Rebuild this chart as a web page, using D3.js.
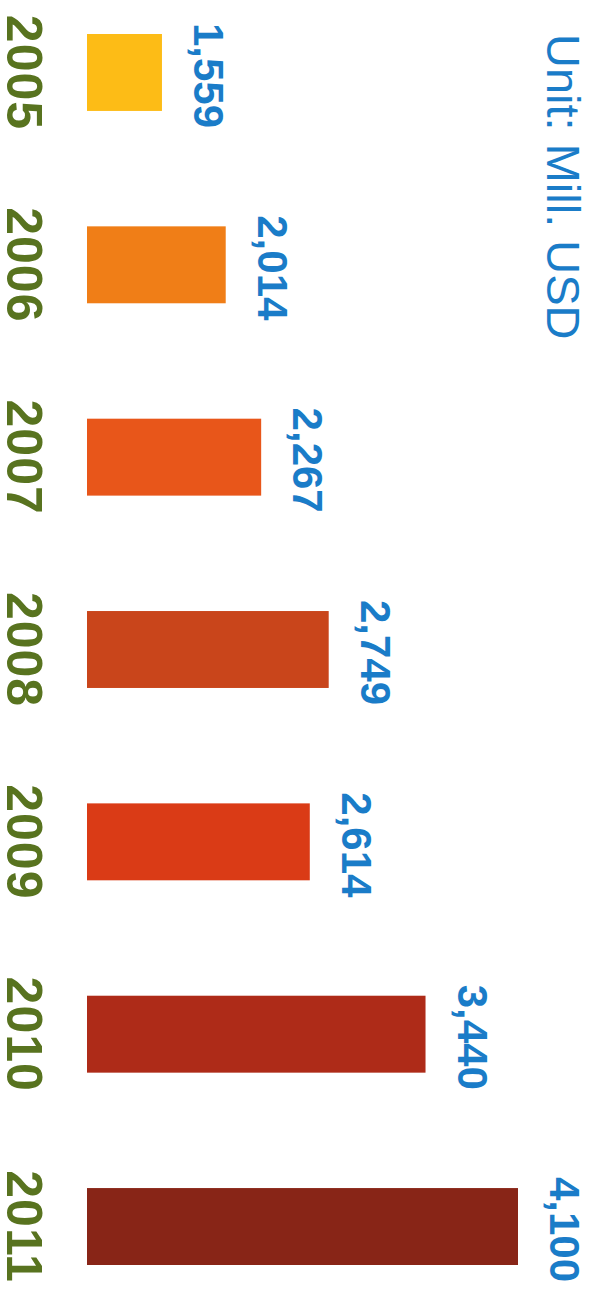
<!DOCTYPE html>
<html>
<head>
<meta charset="utf-8">
<script src="https://cdn.jsdelivr.net/npm/d3@7"></script>
<style>
  html, body { margin: 0; padding: 0; background: #ffffff; }
  svg { display: block; }
</style>
</head>
<body>
<svg id="chart" width="595" height="1292"></svg>
<script>
const years = ["2005", "2006", "2007", "2008", "2009", "2010", "2011"];
const values = [1559, 2014, 2267, 2749, 2614, 3440, 4100];
const barColors = ["#fdbc16", "#f07e17", "#e8561a", "#c9451b", "#da3b16", "#ae2b18", "#882517"];
const unitLabel = "Unit: Mill. USD";

const svg = d3.select("#chart");

const y = d3.scaleBand().domain(years).range([34, 1265]).paddingInner(0.6).paddingOuter(0);
const x = d3.scaleLinear().domain([1024, 4100]).range([87, 518]);

const data = years.map((yr, i) => ({ year: yr, value: values[i], color: barColors[i] }));
const fmt = d3.format(",");

svg.selectAll("rect.bar").data(data).join("rect")
  .attr("class", "bar")
  .attr("x", x(1024))
  .attr("y", d => y(d.year))
  .attr("width", d => x(d.value) - x(1024))
  .attr("height", y.bandwidth())
  .attr("fill", d => d.color);

svg.selectAll("text.year").data(data).join("text")
  .attr("class", "year")
  .attr("transform", d => `translate(7, ${y(d.year) + y.bandwidth() / 2}) rotate(90)`)
  .attr("text-anchor", "middle")
  .attr("font-family", "Liberation Sans, Arial, sans-serif")
  .attr("font-weight", "bold")
  .attr("font-size", 50)
  .attr("letter-spacing", 1)
  .attr("fill", "#58731f")
  .text(d => d.year);

svg.selectAll("text.val").data(data).join("text")
  .attr("class", "val")
  .attr("transform", d => `translate(${x(d.value) + 32}, ${y(d.year) + y.bandwidth() / 2 + 3}) rotate(90)`)
  .attr("text-anchor", "middle")
  .attr("font-family", "Liberation Sans, Arial, sans-serif")
  .attr("font-weight", "bold")
  .attr("font-size", 42)
  .attr("fill", "#1a7cc8")
  .text(d => fmt(d.value));

svg.append("text")
  .attr("transform", "translate(547, 34) rotate(90)")
  .attr("text-anchor", "start")
  .attr("font-family", "Liberation Sans, Arial, sans-serif")
  .attr("font-size", 47)
  .attr("fill", "#1a7cc8")
  .text(unitLabel);
</script>
</body>
</html>
